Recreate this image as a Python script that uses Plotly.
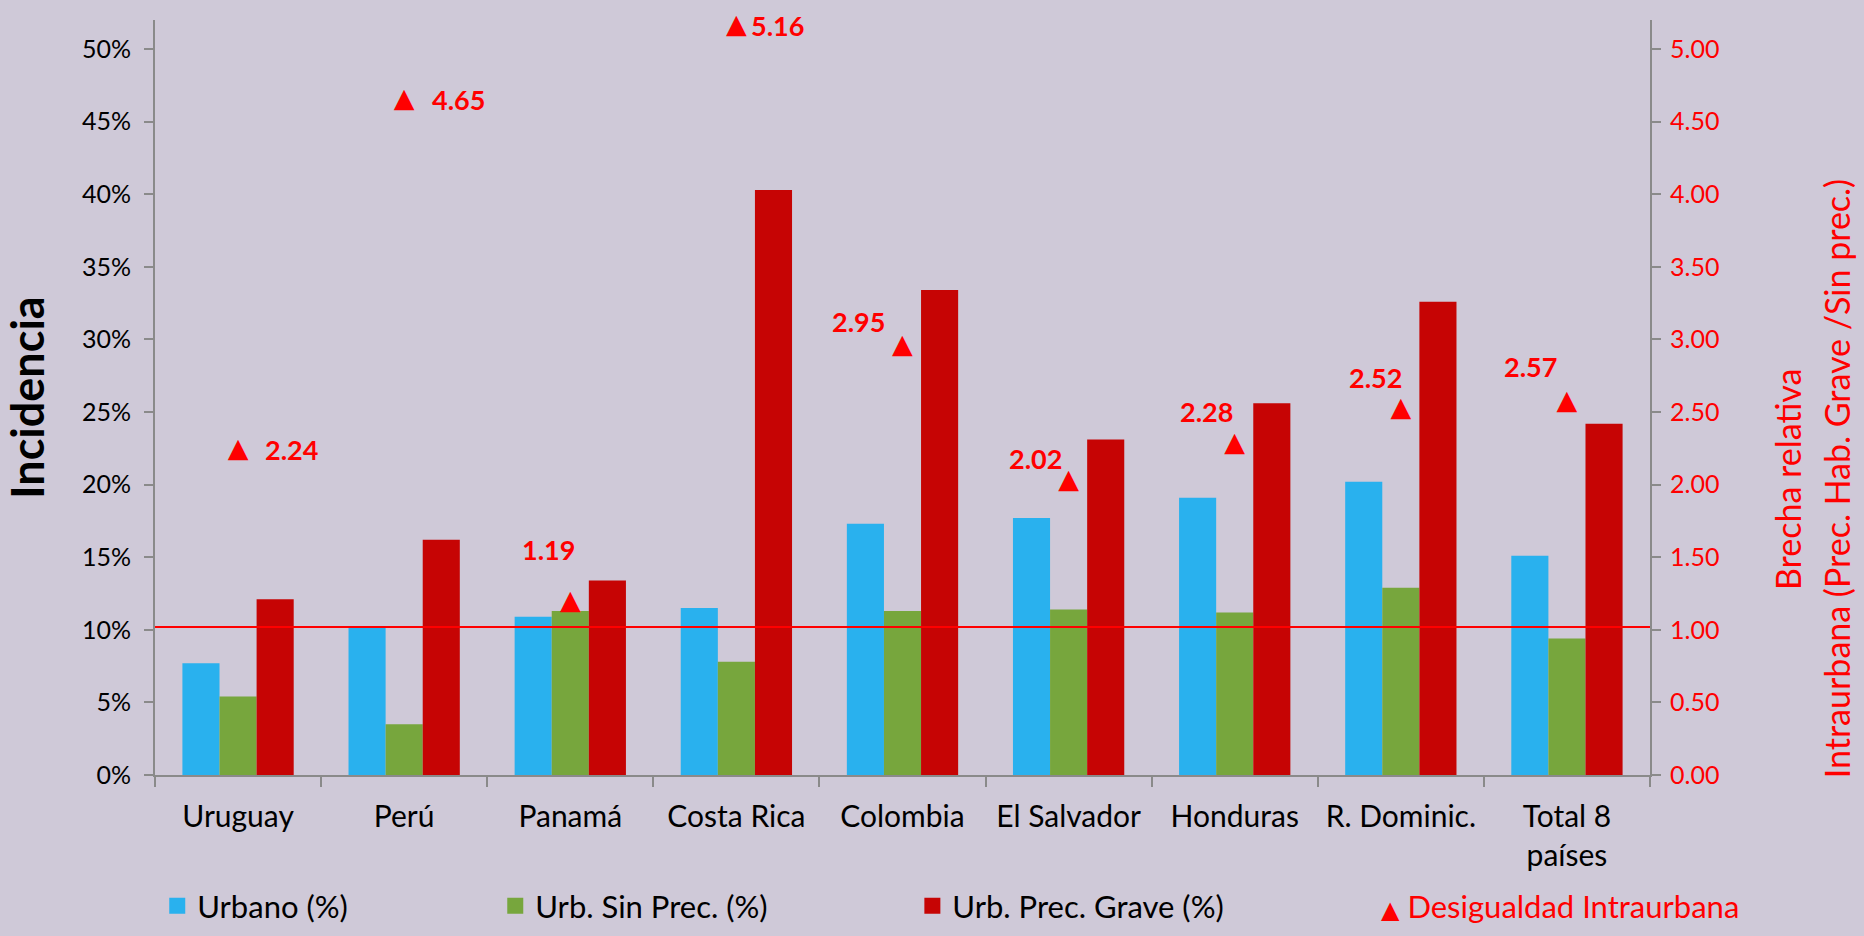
import plotly.graph_objects as go

# ---------------- data ----------------
categories = ["Uruguay", "Perú", "Panamá", "Costa Rica", "Colombia",
              "El Salvador", "Honduras", "R. Dominic.", "Total 8<br>países"]
urbano = [7.7, 10.2, 10.9, 11.5, 17.3, 17.7, 19.1, 20.2, 15.1]
urb_sin_prec = [5.4, 3.5, 11.3, 7.8, 11.3, 11.4, 11.2, 12.9, 9.4]
urb_prec_grave = [12.1, 16.2, 13.4, 40.3, 33.4, 23.1, 25.6, 32.6, 24.2]
desigualdad = [2.24, 4.65, 1.19, 5.16, 2.95, 2.02, 2.28, 2.52, 2.57]
reference_ratio = 1.02

# ---------------- styles ----------------
FONT = "Lato"
C_BLUE = "#29B1EE"
C_GREEN = "#77A63D"
C_DARKRED = "#C60404"
C_RED = "#FF0000"
BG = "#CFC9D8"
AXIS = "#8A8A8A"
# label offsets (px) relative to each marker
label_dx = [53, 54, -22, 41, -44, -33, -28, -25, -36]
label_dy = [0, 0, 53, 0, 25, 23, 32, 32, 35]

fig = go.Figure()

def pct(v):
    return [x / 100 for x in v]

for name, vals, col in [("Urbano (%)", urbano, C_BLUE),
                        ("Urb. Sin Prec. (%)", urb_sin_prec, C_GREEN),
                        ("Urb. Prec. Grave (%)", urb_prec_grave, C_DARKRED)]:
    fig.add_trace(go.Bar(x=categories, y=pct(vals), name=name,
                         marker=dict(color=col, line=dict(width=0)),
                         showlegend=False, yaxis="y"))

# triangles drawn as a glyph so they keep the original's proportions
fig.add_trace(go.Scatter(x=categories, y=desigualdad, yaxis="y2", mode="text",
                         text=["▲"] * len(desigualdad), textposition="middle center",
                         textfont=dict(family="DejaVu Sans", size=27, color=C_RED),
                         showlegend=False, cliponaxis=False,
                         name="Desigualdad Intraurbana"))

# legend proxies (one legend each, to place them like the original)
legend_items = [("Urbano (%)", C_BLUE, "legend", 0.0015),
                ("Urb. Sin Prec. (%)", C_GREEN, "legend2", 0.2276),
                ("Urb. Prec. Grave (%)", C_DARKRED, "legend3", 0.5066)]
for name, col, lg, _ in legend_items:
    fig.add_trace(go.Scatter(x=[None], y=[None], mode="markers", name=name,
                             marker=dict(symbol="square", size=16, color=col),
                             legend=lg, showlegend=True))
fig.add_trace(go.Scatter(x=[None], y=[None], mode="markers",
                         name="<span style='font-family:DejaVu Sans;font-size:24px'>▲</span>"
                              " Desigualdad Intraurbana",
                         marker=dict(symbol="square", size=16, color="rgba(0,0,0,0)"),
                         legend="legend4", showlegend=True))

for cat, v, dx, dy in zip(categories, desigualdad, label_dx, label_dy):
    fig.add_annotation(x=cat, y=v, xref="x", yref="y2", text=f"<b>{v:.2f}</b>",
                       showarrow=False, xshift=dx, yshift=dy,
                       font=dict(family=FONT, size=27, color=C_RED))

fig.add_shape(type="line", xref="paper", x0=0, x1=1, yref="y2",
              y0=reference_ratio, y1=reference_ratio,
              line=dict(color=C_RED, width=2), layer="above")

for txt, xp in [("Brecha relativa", 1.0916), ("Intraurbana (Prec. Hab. Grave /Sin prec.)", 1.1245)]:
    fig.add_annotation(text=txt, xref="paper", yref="paper", x=xp, y=0.392, textangle=-90,
                       showarrow=False, xanchor="center", yanchor="middle",
                       font=dict(family=FONT, size=34, color=C_RED))

leg_common = dict(orientation="h", yref="container", yanchor="middle", y=0.032,
                  xanchor="left", bgcolor="rgba(0,0,0,0)", borderwidth=0)
fig.update_layout(
    width=1864, height=936,
    margin=dict(l=155, r=214, t=20, b=161, autoexpand=False),
    paper_bgcolor=BG, plot_bgcolor=BG,
    font=dict(family=FONT, size=24, color="black"),
    barmode="group", bargap=0.33, bargroupgap=0,
    legend=dict(x=legend_items[0][3], font=dict(family=FONT, size=31, color="black"), **leg_common),
    legend2=dict(x=legend_items[1][3], font=dict(family=FONT, size=31, color="black"), **leg_common),
    legend3=dict(x=legend_items[2][3], font=dict(family=FONT, size=31, color="black"), **leg_common),
    legend4=dict(x=0.7933, font=dict(family=FONT, size=31, color=C_RED), **leg_common),
    xaxis=dict(type="category", tickson="boundaries", ticks="outside", ticklen=10,
               tickcolor=AXIS, tickwidth=2, showline=True, linecolor=AXIS, linewidth=2,
               showgrid=False, tickfont=dict(family=FONT, size=30, color="black"),
               ticklabelstandoff=14, automargin=False),
    yaxis=dict(range=[0, 0.52], dtick=0.05, tickformat=".0%", ticks="outside",
               ticklen=9, tickcolor=AXIS, tickwidth=2, showline=True, linecolor=AXIS,
               linewidth=2, showgrid=False, zeroline=False,
               tickfont=dict(family=FONT, size=25, color="black"),
               ticklabelstandoff=8, automargin=False,
               title=dict(text="<b>Incidencia</b>", standoff=30,
                          font=dict(family=FONT, size=45, color="black"))),
    yaxis2=dict(range=[0, 5.2], dtick=0.5, tickformat=".2f", overlaying="y",
                side="right", ticks="outside", ticklen=9, tickcolor=AXIS, tickwidth=2,
                showline=True, linecolor=AXIS, linewidth=2, showgrid=False,
                zeroline=False, tickfont=dict(family=FONT, size=25, color=C_RED),
                ticklabelstandoff=4, automargin=False),
)

fig.write_html("out.html", config={"displayModeBar": False},
               post_script="document.documentElement.style.margin='0';"
                           "document.body.style.margin='0';"
                           "document.body.style.overflow='hidden';")
